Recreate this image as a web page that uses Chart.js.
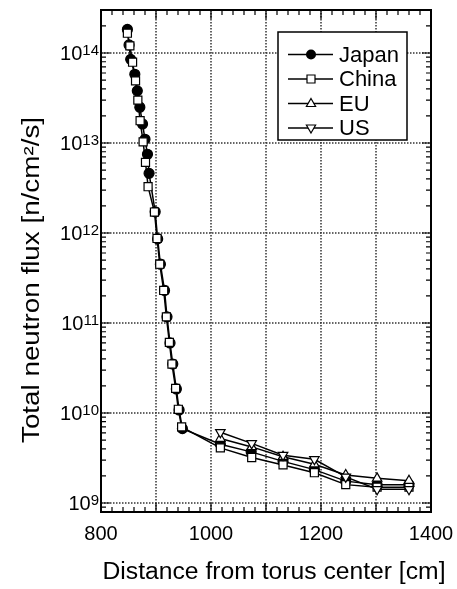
<!DOCTYPE html>
<html>
<head>
<meta charset="utf-8">
<script src="https://cdn.jsdelivr.net/npm/chart.js@4.4.0/dist/chart.umd.min.js"></script>
<style>
  html, body { margin: 0; padding: 0; background: #fff; }
  #c { display: block; }
</style>
</head>
<body>
<canvas id="c" width="457" height="589"></canvas>
<script>
// valores: distância [cm] e fluxo [n/cm2/s]
const japanX = [848, 851, 854, 861.5, 866, 870.6, 875.5, 880, 884.5, 887.4, 898.5, 903, 908, 915.5, 920, 925.5, 930.5, 937, 942, 948, 1017, 1073, 1131, 1188, 1245, 1302, 1360];
const japanY = [1.83e14, 1.23e14, 8.5e13, 5.8e13, 3.8e13, 2.5e13, 1.63e13, 1.1e13, 7.5e12, 4.6e12, 1.72e12, 8.6e11, 4.5e11, 2.3e11, 1.17e11, 6.0e10, 3.5e10, 1.85e10, 1.08e10, 6.7e9, 4.5e9, 3.7e9, 2.9e9, 2.35e9, 1.75e9, 1.6e9, 1.6e9];

const chinaX = [848, 852.5, 857.4, 862.8, 867, 871.1, 876.6, 880.9, 885.6, 897.2, 901.9, 906.8, 914, 918.9, 924.3, 929, 935.7, 940.6, 946.6, 1017, 1074, 1131, 1188, 1245, 1302, 1360];
const chinaY = [1.66e14, 1.2e14, 7.9e13, 4.9e13, 3.0e13, 1.77e13, 1.03e13, 6.1e12, 3.27e12, 1.71e12, 8.7e11, 4.5e11, 2.3e11, 1.17e11, 6.1e10, 3.5e10, 1.88e10, 1.1e10, 7.0e9, 4.1e9, 3.2e9, 2.65e9, 2.17e9, 1.6e9, 1.5e9, 1.5e9];

const euX = [1017, 1074, 1131, 1188, 1245, 1302, 1360];
const euY = [5.2e9, 4.2e9, 3.27e9, 2.7e9, 2.05e9, 1.88e9, 1.77e9];

const usX = [1017, 1074, 1131, 1188, 1245, 1302, 1360];
const usY = [6.1e9, 4.6e9, 3.4e9, 3.06e9, 1.95e9, 1.42e9, 1.42e9];

// eixos
const xTickLabels = [800, 1000, 1200, 1400];
const xGrid = [900, 1000, 1100, 1200, 1300];
const yExponents = [9, 10, 11, 12, 13, 14];

const FONT = '"Liberation Sans", Arial, sans-serif';

function pts(xs, ys) {
  return xs.map((x, i) => ({ x: x, y: ys[i] }));
}

// texto esticado até uma largura fixa (o original usa fonte mais larga)
function textoLargura(ctx, txt, cx, cy, largura) {
  const w = ctx.measureText(txt).width;
  ctx.save();
  ctx.translate(cx, cy);
  ctx.scale(largura / w, 1);
  ctx.fillText(txt, 0, 0);
  ctx.restore();
}

function marker(ctx, style, x, y) {
  ctx.save();
  ctx.setLineDash([]);
  ctx.lineWidth = 1.2;
  ctx.strokeStyle = '#000';
  ctx.beginPath();
  if (style === 'circle') {
    ctx.fillStyle = '#000';
    ctx.arc(x, y, 5, 0, Math.PI * 2);
    ctx.fill();
  } else if (style === 'rect') {
    ctx.fillStyle = '#fff';
    ctx.rect(x - 4, y - 4, 8, 8);
    ctx.fill(); ctx.stroke();
  } else {
    const s = style === 'up' ? 1 : -1;
    ctx.fillStyle = '#fff';
    ctx.moveTo(x, y - 5 * s);
    ctx.lineTo(x + 4.6, y + 3 * s);
    ctx.lineTo(x - 4.6, y + 3 * s);
    ctx.closePath();
    ctx.fill(); ctx.stroke();
  }
  ctx.restore();
}

const legendItems = [
  { label: 'Japan', style: 'circle' },
  { label: 'China', style: 'rect' },
  { label: 'EU', style: 'up' },
  { label: 'US', style: 'down' }
];

const moldura = {
  id: 'moldura',
  beforeDatasetsDraw(chart) {
    const { ctx, chartArea: a, scales: { x, y } } = chart;
    ctx.save();
    ctx.strokeStyle = '#333';
    ctx.lineWidth = 1.5;
    ctx.setLineDash([1.5, 1.5]);
    xGrid.forEach(v => {
      const px = x.getPixelForValue(v);
      ctx.beginPath(); ctx.moveTo(px, a.top); ctx.lineTo(px, a.bottom); ctx.stroke();
    });
    yExponents.forEach(e => {
      const py = y.getPixelForValue(Math.pow(10, e));
      ctx.beginPath(); ctx.moveTo(a.left, py); ctx.lineTo(a.right, py); ctx.stroke();
    });
    ctx.restore();
  },
  afterDatasetsDraw(chart) {
    const { ctx, chartArea: a, scales: { x, y } } = chart;
    ctx.save();
    ctx.strokeStyle = '#000';
    ctx.lineWidth = 1.2;
    // ticks do eixo y (menores 2..9)
    for (let e = 8; e <= 14; e++) {
      for (let m = 1; m <= 9; m++) {
        const v = m * Math.pow(10, e);
        if (v < y.min || v > y.max) continue;
        const py = y.getPixelForValue(v);
        const len = m === 1 ? 9 : 5;
        ctx.beginPath();
        ctx.moveTo(a.left, py); ctx.lineTo(a.left + len, py);
        ctx.moveTo(a.right, py); ctx.lineTo(a.right - len, py);
        ctx.stroke();
      }
    }
    // ticks do eixo x a cada 20 cm
    for (let v = 800; v <= 1400; v += 20) {
      const px = x.getPixelForValue(v);
      const len = v % 100 === 0 ? 9 : 5;
      ctx.beginPath();
      ctx.moveTo(px, a.bottom); ctx.lineTo(px, a.bottom - len);
      ctx.moveTo(px, a.top); ctx.lineTo(px, a.top + len);
      ctx.stroke();
    }
    // moldura
    ctx.lineWidth = 2;
    ctx.strokeRect(a.left, a.top, a.right - a.left, a.bottom - a.top);

    // rótulos
    ctx.fillStyle = '#000';
    ctx.font = '20px ' + FONT;
    ctx.textAlign = 'center';
    ctx.textBaseline = 'middle';
    xTickLabels.forEach(v => {
      ctx.fillText(String(v), x.getPixelForValue(v), a.bottom + 22);
    });
    ctx.textBaseline = 'alphabetic';
    yExponents.forEach(e => {
      const py = y.getPixelForValue(Math.pow(10, e));
      ctx.font = '15px ' + FONT;
      const ew = ctx.measureText(String(e)).width;
      ctx.textAlign = 'left';
      ctx.fillText(String(e), 99 - ew, py + 2);
      ctx.font = '20px ' + FONT;
      ctx.textAlign = 'right';
      ctx.fillText('10', 99 - ew, py + 7);
    });

    // títulos dos eixos
    ctx.font = '23px ' + FONT;
    ctx.textAlign = 'center';
    ctx.textBaseline = 'middle';
    textoLargura(ctx, 'Distance from torus center [cm]', 274, 573, 343);
    ctx.save();
    ctx.translate(33, 280);
    ctx.rotate(-Math.PI / 2);
    textoLargura(ctx, 'Total neutron flux [n/cm\u00b2/s]', 0, 0, 326);
    ctx.restore();

    // legenda
    ctx.fillStyle = '#fff';
    ctx.fillRect(278, 32, 129, 108);
    ctx.lineWidth = 1.5;
    ctx.strokeRect(278, 32, 129, 108);
    ctx.font = '22px ' + FONT;
    ctx.textAlign = 'left';
    ctx.textBaseline = 'middle';
    legendItems.forEach((it, i) => {
      const ly = 54.5 + i * 24.5;
      ctx.strokeStyle = '#000';
      ctx.lineWidth = 1.5;
      ctx.beginPath(); ctx.moveTo(288, ly); ctx.lineTo(333, ly); ctx.stroke();
      marker(ctx, it.style, 311, ly);
      ctx.fillStyle = '#000';
      ctx.fillText(it.label, 339, ly + 1);
    });
    ctx.restore();
  }
};

function serie(label, xs, ys, style, order) {
  const base = {
    label: label,
    data: pts(xs, ys),
    borderColor: '#000',
    borderWidth: 1.5,
    tension: 0,
    pointRadius: 5,
    pointBorderWidth: 1.2,
    pointBorderColor: '#000',
    pointBackgroundColor: '#fff',
    order: order
  };
  if (style === 'circle') {
    base.pointStyle = 'circle';
    base.pointBackgroundColor = '#000';
    base.pointRadius = 5;
  } else if (style === 'rect') {
    base.pointStyle = 'rect';
    base.pointRadius = 5.7;
  } else {
    base.pointStyle = 'triangle';
    base.pointRadius = 5.5;
    base.pointRotation = style === 'down' ? 180 : 0;
  }
  return base;
}

new Chart(document.getElementById('c').getContext('2d'), {
  type: 'line',
  data: {
    datasets: [
      serie('Japan', japanX, japanY, 'circle', 4),
      serie('China', chinaX, chinaY, 'rect', 3),
      serie('EU', euX, euY, 'up', 2),
      serie('US', usX, usY, 'down', 1)
    ]
  },
  options: {
    responsive: false,
    devicePixelRatio: 1,
    animation: false,
    layout: { padding: { top: 10, right: 26, left: 0, bottom: 0 } },
    plugins: { legend: { display: false }, tooltip: { enabled: false } },
    scales: {
      x: {
        type: 'linear', min: 800, max: 1400, bounds: 'data',
        ticks: { display: false }, grid: { display: false }, border: { display: false },
        afterFit(s) { s.height = 77; }
      },
      y: {
        type: 'logarithmic', min: 7.943e8, max: 3.006e14, bounds: 'data',
        ticks: { display: false }, grid: { display: false }, border: { display: false },
        afterFit(s) { s.width = 101; }
      }
    }
  },
  plugins: [moldura]
});
</script>
</body>
</html>
